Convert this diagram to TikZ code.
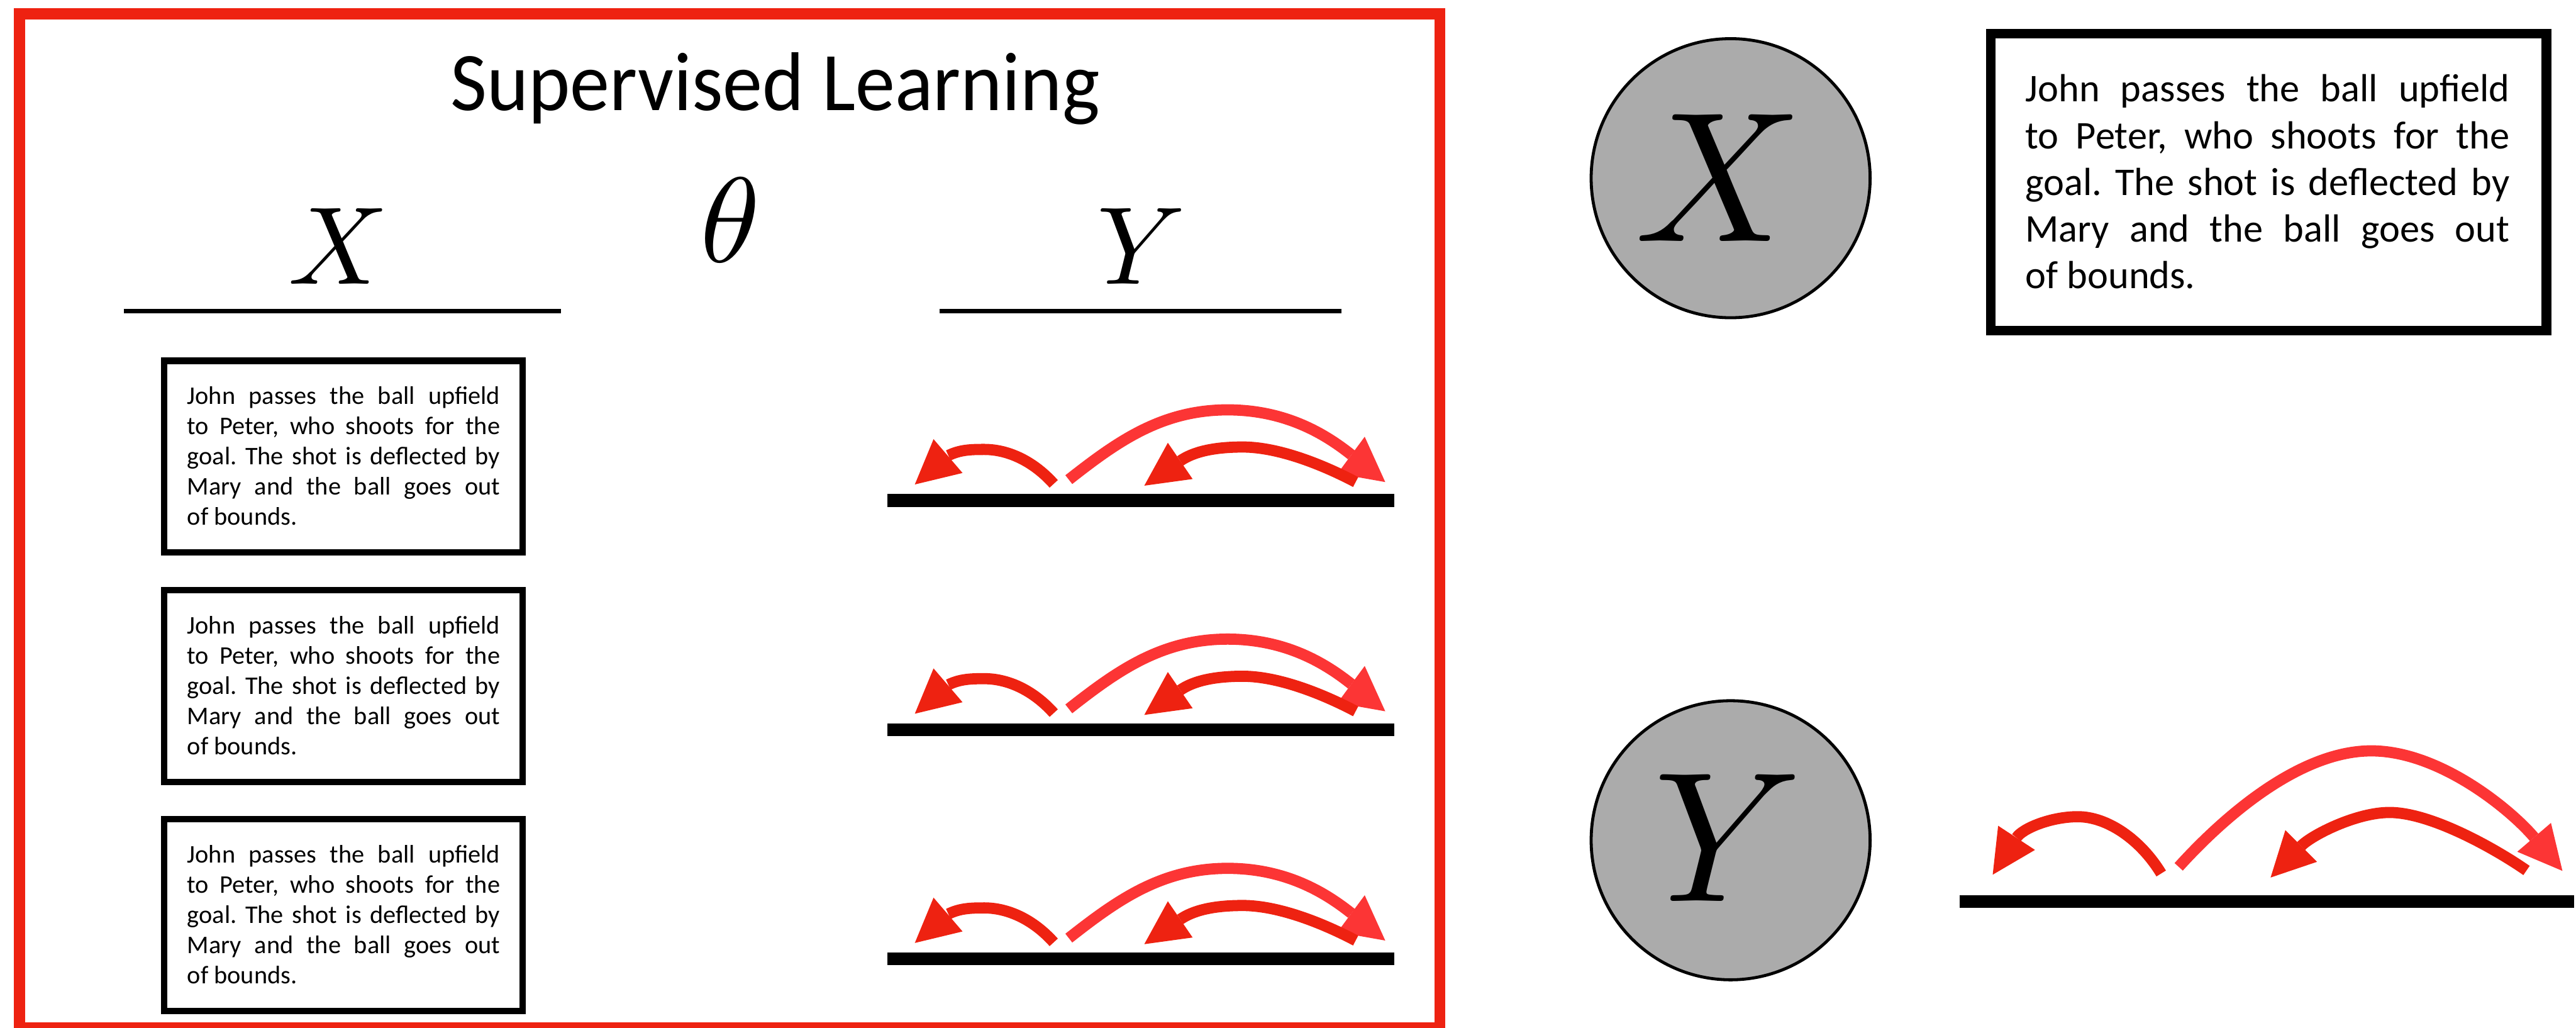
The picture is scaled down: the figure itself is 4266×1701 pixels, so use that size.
\documentclass[tikz,border=0pt]{standalone}
\usepackage{fontspec}
\usepackage{graphicx}
\DeclareFontShape{OML}{cmm}{m}{it}{<->cmmi10}{}
\newfontfamily\gill{Carlito}
\definecolor{framered}{HTML}{EE2211}
\definecolor{arcred}{HTML}{EE2211}
\definecolor{arclight}{HTML}{FC3535}
\definecolor{circgray}{HTML}{ABABAB}
\newlength\tgtw
\newlength\natw
\newcommand\jline[1]{\setbox0\hbox{#1}\natw=\wd0\relax
  \ifdim\natw>\tgtw\pgfmathsetmacro\myscx{\tgtw/\natw}\scalebox{\myscx}[1]{\box0}\else\makebox[\tgtw][s]{#1}\fi}
\newcommand\fitto[2]{\setbox0\hbox{#2}\natw=\wd0\relax\pgfmathsetmacro\myscx{#1/\natw}\scalebox{\myscx}[1]{\box0}}
\newcommand\storytext[2]{\vtop{\frenchspacing\tgtw=#1\relax\baselineskip=#2\relax\lineskiplimit=-1000pt\relax
  \hbox{\jline{John passes the ball upfield}}%
  \hbox{\jline{to Peter, who shoots for the}}%
  \hbox{\jline{goal. The shot is deflected by}}%
  \hbox{\jline{Mary and the ball goes out}}%
  \hbox{of bounds.}}}
\tikzset{
  frameline/.style={draw=framered, line width=18.6pt},
  txtbox/.style={draw=black, line width=10.5pt, inner sep=0pt},
  bigbox/.style={draw=black, line width=16pt, inner sep=0pt},
  varcirc/.style={circle, draw=black, line width=5pt, fill=circgray, minimum size=462pt, inner sep=0pt},
  smallstory/.style={anchor=base west, inner sep=0pt, font=\gill\fontsize{42}{50}\selectfont},
  largestory/.style={anchor=base west, inner sep=0pt, font=\gill\fontsize{65}{77}\selectfont},
  mathlbl/.style={anchor=base, inner sep=0pt},
  bar/.style={line width=21pt, black},
  uline/.style={line width=8pt, black},
  shaftred/.style={draw=arcred, line width=18.5pt},
  shaftlight/.style={draw=arclight, line width=18.5pt},
}
\newcommand\rowarcs[1]{%
  \begin{scope}[shift={(0,#1)}]
    \draw[bar] (1470,828.5) -- (2309,828.5);
    % big light arc
    \draw[shaftlight] (1770,794) .. controls (1849,732) and (1923,678.5) .. (2033,678.5)
      .. controls (2133,678.5) and (2199,722) .. (2238,753);
    \fill[arclight] (2294,798) -- (2260,723) -- (2215,784) -- cycle;
    % middle arc
    \draw[shaftred] (2245,798) .. controls (2192,770) and (2118,740) .. (2058,740)
      .. controls (2008,740) and (1975,748.7) .. (1954.5,763);
    \fill[arcred] (1895,804) -- (1934,733) -- (1975,793) -- cycle;
    % small arc
    \draw[shaftred] (1745,801) .. controls (1710,762) and (1668,744) .. (1630,744)
      .. controls (1608,744) and (1590,744.5) .. (1570.5,754);
    \fill[arcred] (1515,802) -- (1546,727) -- (1594,783) -- cycle;
  \end{scope}}
\begin{document}
\begin{tikzpicture}[x=1pt, y=-1pt]
\useasboundingbox (0,0) rectangle (4266,1701);
\fill[white] (0,0) rectangle (4266,1701);

% ---------- supervised learning frame ----------
\draw[frameline] (32.5,23) rectangle (2384.5,1702);
\node[anchor=base west, inner sep=0pt] (title) at (746,182.3)
  {\gill\fontsize{138}{140}\selectfont\fitto{1075pt}{Supervised Learning}};

\node[mathlbl] (xlab) at (560,470) {\fontsize{183}{183}\selectfont$X$};
\node[mathlbl] (thlab) at (1209,434) {\fontsize{200}{200}\selectfont$\theta$};
\node[mathlbl] (ylab) at (1890,470) {\fontsize{183}{183}\selectfont$Y$};
\draw[uline] (205,515) -- (929,515);
\draw[uline] (1556,515) -- (2222,515);

\node[txtbox, minimum width=593.5pt, minimum height=317.5pt] (box1) at (569,756) {};
\node[txtbox, minimum width=593.5pt, minimum height=317.5pt] (box2) at (569,1135.5) {};
\node[txtbox, minimum width=593.5pt, minimum height=317.5pt] (box3) at (569,1515) {};
\node[smallstory] (txt1) at (310,669.3) {\storytext{518pt}{50pt}};
\node[smallstory] (txt2) at (310,1048.8) {\storytext{518pt}{50pt}};
\node[smallstory] (txt3) at (310,1428.3) {\storytext{518pt}{50pt}};

\rowarcs{0}
\rowarcs{379.5}
\rowarcs{759}

% ---------- right side ----------
\node[varcirc] (cx) at (2866,295) {};
\node[mathlbl] (cxlab) at (2847,399) {\fontsize{307}{307}\selectfont$X$};
\node[varcirc] (cy) at (2866,1391) {};
\node[mathlbl] (cylab) at (2862,1492) {\fontsize{307}{307}\selectfont$Y$};

\node[bigbox, minimum width=920pt, minimum height=491pt] (bigbox) at (3757,301.5) {};
\node[largestory] (bigtxt) at (3354,168.4) {\storytext{802pt}{77.4pt}};

\draw[bar] (3245,1492.5) -- (4263,1492.5);
% big light arc
\draw[shaftlight] (3608,1435) .. controls (3681.7,1353.6) and (3807,1243) .. (3927,1243)
  .. controls (4040,1243) and (4157.9,1340.4) .. (4196.6,1386.2);
\fill[arclight] (4243.5,1441.7) -- (4224.5,1362.3) -- (4168.7,1410) -- cycle;
% middle arc
\draw[shaftred] (4184,1441) .. controls (4134.8,1406.8) and (4027,1345) .. (3957,1345)
  .. controls (3902,1345) and (3828.2,1382.5) .. (3810.8,1400.5);
\fill[arcred] (3760.2,1452.7) -- (3784.6,1374.3) -- (3837,1426.7) -- cycle;
% small arc
\draw[shaftred] (3579,1446) .. controls (3545,1390) and (3490,1352) .. (3441,1352)
  .. controls (3396,1352) and (3349.1,1371.6) .. (3339.4,1386.7);
\fill[arcred] (3300,1448) -- (3309,1367) -- (3370,1407) -- cycle;
\end{tikzpicture}
\end{document}
